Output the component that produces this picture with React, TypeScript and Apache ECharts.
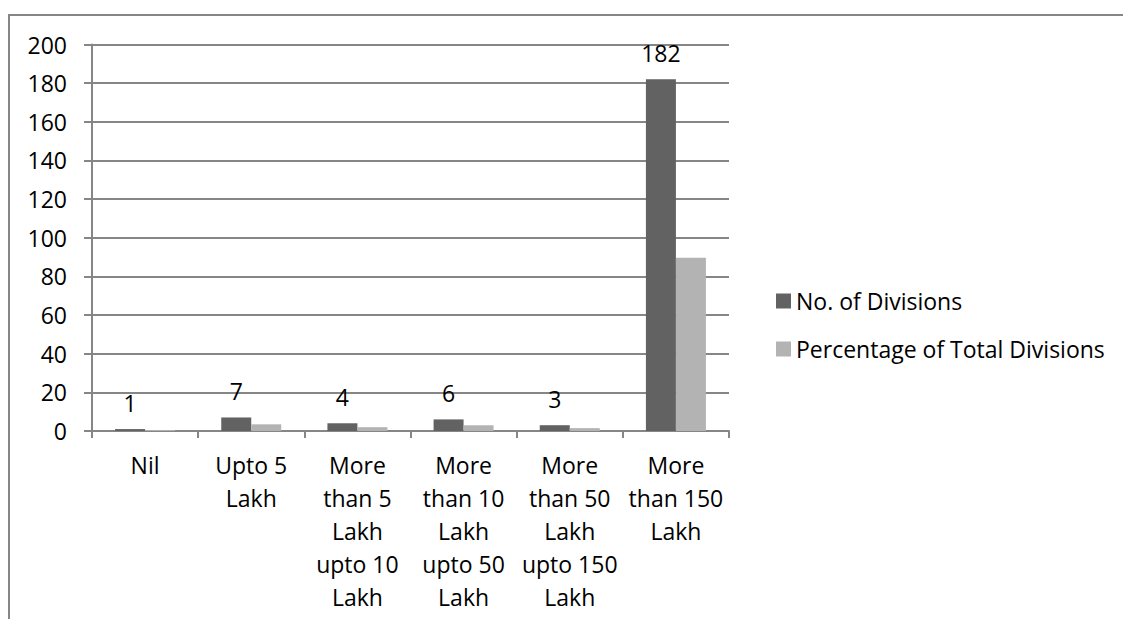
import React, { useEffect, useRef } from "react";
import * as echarts from "echarts";

const categories = [
  "Nil",
  "Upto 5\nLakh",
  "More\nthan 5\nLakh\nupto 10\nLakh",
  "More\nthan 10\nLakh\nupto 50\nLakh",
  "More\nthan 50\nLakh\nupto 150\nLakh",
  "More\nthan 150\nLakh",
];
const divisions = [1, 7, 4, 6, 3, 182];
const percentages = [0.49, 3.45, 1.97, 2.96, 1.48, 89.66];
const seriesNames = ["No. of Divisions", "Percentage of Total Divisions"];

const FONT = "Open Sans";
const GRAY = "#868686";
const FS = 23;

export default function App() {
  const ref = useRef<HTMLDivElement>(null);
  useEffect(() => {
    document.body.style.margin = "0";
    const chart = echarts.init(ref.current!, undefined, { renderer: "svg" });
    chart.setOption({
      animation: false,
      textStyle: { fontFamily: FONT },
      graphic: [
        {
          type: "rect",
          shape: { x: 9, y: 15, width: 1300, height: 800 },
          style: { fill: "none", stroke: GRAY, lineWidth: 2 },
          silent: true,
        },
      ],
      grid: { left: 92, right: 394, top: 44.5, bottom: 188, containLabel: false },
      legend: {
        orient: "vertical",
        left: 771,
        top: 284,
        itemWidth: 15,
        itemHeight: 15,
        itemGap: 24,
        itemTextGap: 6,
        icon: "rect",
        textStyle: { fontFamily: FONT, fontSize: FS, color: "#000", lineHeight: 24 },
        data: seriesNames,
      },
      xAxis: {
        type: "category",
        data: categories,
        axisLine: { lineStyle: { color: GRAY, width: 2 } },
        axisTick: { show: true, length: 7, lineStyle: { color: GRAY, width: 2 } },
        axisLabel: {
          interval: 0,
          margin: 17,
          fontFamily: FONT,
          fontSize: FS,
          lineHeight: 33,
          color: "#000",
          align: "center",
        },
      },
      yAxis: {
        type: "value",
        min: 0,
        max: 200,
        interval: 20,
        axisLine: { show: true, lineStyle: { color: GRAY, width: 2 } },
        axisTick: { show: true, length: 8, lineStyle: { color: GRAY, width: 2 } },
        splitLine: { show: true, lineStyle: { color: GRAY, width: 2 } },
        axisLabel: { margin: 25, fontFamily: FONT, fontSize: FS, color: "#000" },
      },
      series: [
        {
          name: seriesNames[0],
          type: "bar",
          data: divisions,
          barWidth: 30,
          barGap: "0%",
          itemStyle: { color: "#626262" },
          label: {
            show: true,
            position: "top",
            distance: 15,
            fontFamily: FONT,
            fontSize: FS,
            color: "#000",
          },
        },
        {
          name: seriesNames[1],
          type: "bar",
          data: percentages,
          barWidth: 30,
          barGap: "0%",
          itemStyle: { color: "#b3b3b3" },
        },
      ],
    });
    return () => chart.dispose();
  }, []);
  return <div ref={ref} style={{ width: 1123, height: 619 }} />;
}
